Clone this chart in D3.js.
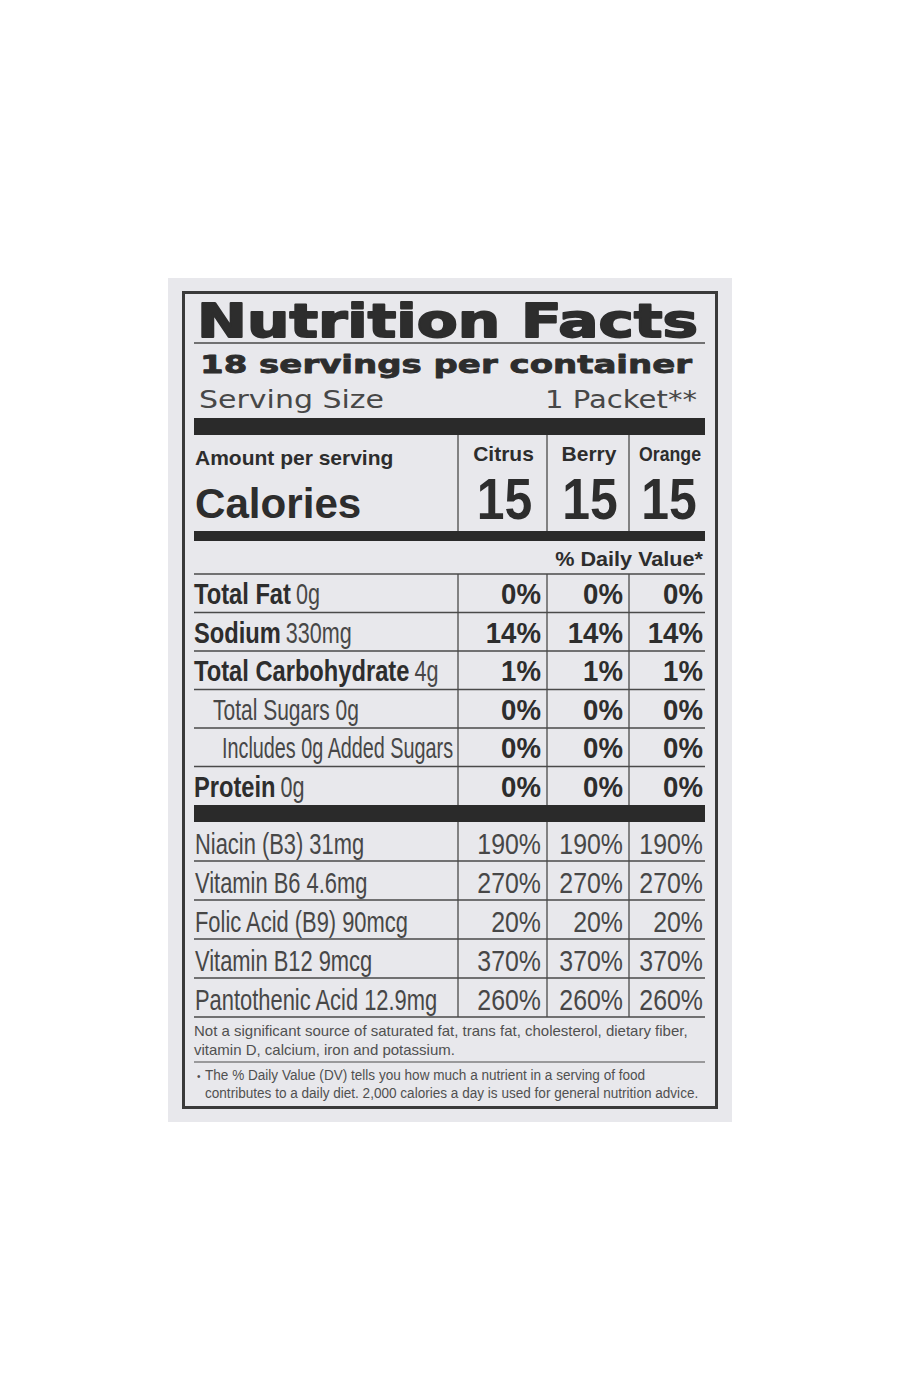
<!DOCTYPE html>
<html lang="en">
<head>
    <meta charset="UTF-8">
    <title>Nutrition Facts</title>
    <script src="https://d3js.org/d3.v7.min.js"></script>
    <style>
        body { margin: 0; background: #ffffff; }
        svg { display: block; }
    </style>
</head>
<body>
<div id="label"></div>
<script>
    const flavors = ["Citrus", "Berry", "Orange"];
    const calories = [15, 15, 15];

    const nutrients = ["Total Fat", "Sodium", "Total Carbohydrate", "Total Sugars", "Includes 0g Added Sugars", "Protein"];
    const nutrientAmounts = ["0g", "330mg", "4g", "0g", "", "0g"];
    const nutrientBold = [true, true, true, false, false, true];
    const nutrientIndent = [0, 0, 0, 1, 2, 0];
    const nutrientDV = [[0, 0, 0], [14, 14, 14], [1, 1, 1], [0, 0, 0], [0, 0, 0], [0, 0, 0]];

    const vitamins = ["Niacin (B3)", "Vitamin B6", "Folic Acid (B9)", "Vitamin B12", "Pantothenic Acid"];
    const vitaminAmounts = ["31mg", "4.6mg", "90mcg", "9mcg", "12.9mg"];
    const vitaminDV = [[190, 190, 190], [270, 270, 270], [20, 20, 20], [370, 370, 370], [260, 260, 260]];

    const footnotes = [
        "Not a significant source of saturated fat, trans fat, cholesterol, dietary fiber,",
        "vitamin D, calcium, iron and potassium."
    ];
    const dvNote = [
        "The % Daily Value (DV) tells you how much a nutrient in a serving of food",
        "contributes to a daily diet. 2,000 calories a day is used for general nutrition advice."
    ];

    const width = 900, height = 1400;
    const ink = "#2d2d2d", inkLight = "#474747";
    const sans = "'Liberation Sans', Arial, sans-serif";
    const wide = "'DejaVu Sans', Verdana, sans-serif";

    const svg = d3.select("#label").append("svg")
        .attr("width", width)
        .attr("height", height);

    // card + outer border
    svg.append("rect").attr("x", 168).attr("y", 278).attr("width", 564).attr("height", 844).attr("fill", "#e8e8ec");
    svg.append("rect").attr("x", 183.5).attr("y", 292.5).attr("width", 533).attr("height", 815)
        .attr("fill", "none").attr("stroke", "#3a3a3a").attr("stroke-width", 3);

    const left = 194, right = 705;

    // columns: label column then one per flavor
    const colEdge = d3.scaleOrdinal().domain(flavors).range([547, 629, 705]);
    const colLeft = d3.scaleOrdinal().domain(flavors).range([458, 547, 629]);
    const textEnd = d3.scaleOrdinal().domain(flavors).range([541, 623, 703]);

    // helper: text with horizontal squeeze
    function txt(g, x, y, s, sx, opts) {
        const t = g.append("text")
            .attr("transform", `translate(${x},${y}) scale(${sx},1)`)
            .attr("font-family", opts.family || sans)
            .attr("font-size", opts.size)
            .attr("font-weight", opts.weight || "normal")
            .attr("fill", opts.fill || ink)
            .attr("text-anchor", opts.anchor || "start")
            .text(s);
        if (opts.len) t.attr("textLength", opts.len).attr("lengthAdjust", "spacingAndGlyphs");
        if (opts.stroke) t.attr("stroke", opts.fill || ink).attr("stroke-width", opts.stroke).attr("stroke-linejoin", "round");
        return t;
    }
    // squeeze a text further if it is wider than maxW
    function fit(t, x, y, sx, maxW) {
        const w = t.node().getComputedTextLength();
        const s = Math.min(sx, maxW / w);
        t.attr("transform", `translate(${x},${y}) scale(${s},1)`);
        return w * s;
    }
    function hline(y, w, c) {
        svg.append("line").attr("x1", left).attr("x2", right).attr("y1", y).attr("y2", y)
            .attr("stroke", c || "#4a4a4a").attr("stroke-width", w);
    }
    function bar(y0, y1) {
        svg.append("rect").attr("x", left).attr("y", y0).attr("width", right - left).attr("height", y1 - y0).attr("fill", "#2a2a2a");
    }
    function dividers(y0, y1) {
        svg.selectAll(null).data(flavors).enter().append("line")
            .attr("x1", d => colLeft(d)).attr("x2", d => colLeft(d))
            .attr("y1", y0).attr("y2", y1)
            .attr("stroke", "#4a4a4a").attr("stroke-width", 1.3);
    }

    // header
    txt(svg, 197, 337, "Nutrition Facts", 1, { family: wide, size: 46, weight: "bold", len: 501, stroke: 1.8 });
    hline(343, 1.3);
    txt(svg, 200, 373, "18 servings per container", 1, { family: wide, size: 25, weight: "bold", len: 492, stroke: 0.8 });
    txt(svg, 199, 408, "Serving Size", 1, { family: wide, size: 25, fill: inkLight, len: 185 });
    txt(svg, 545, 408, "1 Packet**", 1, { family: wide, size: 25, fill: inkLight, len: 152 });

    bar(418, 435);

    txt(svg, 195, 465, "Amount per serving", 1, { size: 21, weight: "bold" });
    txt(svg, 195, 518, "Calories", 0.98, { size: 43, weight: "bold" });

    const head = svg.append("g");
    flavors.forEach((f, i) => {
        const cx = (colLeft(f) + colEdge(f)) / 2 + 1;
        const t = txt(head, cx, 461, f, 1, { size: 21, weight: "bold", anchor: "middle" });
        fit(t, cx + (i === 2 ? 2 : 0), 461, 1, colEdge(f) - colLeft(f) - 14);
        txt(head, cx + 1, 519, calories[i], 0.86, { size: 58, weight: "bold", anchor: "middle" });
    });
    dividers(435, 531);

    bar(531, 541);
    txt(svg, 703, 566, "% Daily Value*", 1.03, { size: 21, weight: "bold", anchor: "end" });
    hline(574, 1.3);

    // nutrient rows
    const yNut = d3.scaleBand().domain(nutrients).range([574, 805]);
    const nutG = svg.append("g");
    nutrients.forEach((n, i) => {
        const base = yNut(n) + yNut.bandwidth() - 8.5;
        const x0 = left + [0, 19, 28][nutrientIndent[i]];
        if (nutrientBold[i]) {
            const t = txt(nutG, x0, base, n, 0.79, { size: 30, weight: "bold" });
            const x = x0 + t.node().getComputedTextLength() * 0.79 + 5;
            txt(nutG, x, base, nutrientAmounts[i], 0.72, { size: 30, fill: inkLight });
        } else {
            const s = nutrientAmounts[i] ? n + " " + nutrientAmounts[i] : n;
            const t = txt(nutG, x0, base, s, 0.7, { size: 30, fill: inkLight });
            fit(t, x0, base, 0.7, colLeft(flavors[0]) - 5 - x0);
        }
        flavors.forEach((f, j) => {
            txt(nutG, textEnd(f), base, nutrientDV[i][j] + "%", 0.92, { size: 30, weight: "bold", anchor: "end" });
        });
        if (i < nutrients.length - 1) hline(yNut(n) + yNut.bandwidth(), 1.3);
    });
    dividers(574, 805);

    bar(805, 822);

    // vitamin rows
    const yVit = d3.scaleBand().domain(vitamins).range([822, 1017]);
    const vitG = svg.append("g");
    vitamins.forEach((v, i) => {
        const base = yVit(v) + yVit.bandwidth() - 7.5;
        txt(vitG, left + 1, base, v + " " + vitaminAmounts[i], 0.73, { size: 30, fill: inkLight });
        flavors.forEach((f, j) => {
            txt(vitG, textEnd(f), base, vitaminDV[i][j] + "%", 0.83, { size: 30, fill: inkLight, anchor: "end" });
        });
        hline(yVit(v) + yVit.bandwidth(), 1.3);
    });
    dividers(822, 1017);

    // footnotes
    footnotes.forEach((s, i) => {
        txt(svg, left, 1036 + i * 19, s, 1.0, { size: 15, fill: "#505050" });
    });
    hline(1062, 1.2);
    txt(svg, 197, 1080, "\u2022", 1, { size: 10, fill: "#505050" });
    dvNote.forEach((s, i) => {
        txt(svg, 205, 1080 + i * 18, s, 0.905, { size: 15, fill: "#505050" });
    });
</script>
</body>
</html>
